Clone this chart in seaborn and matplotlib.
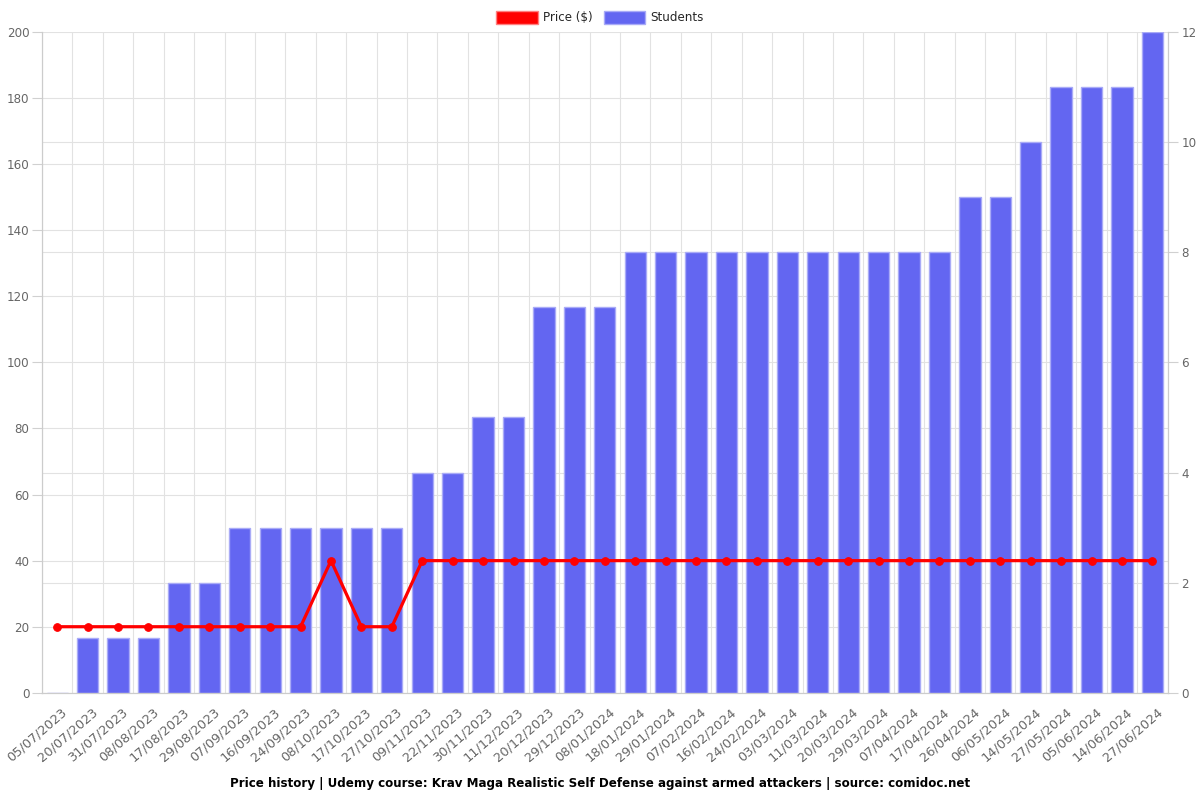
import numpy as np
import pandas as pd
import matplotlib
matplotlib.use("Agg")
import matplotlib.pyplot as plt
import matplotlib.transforms as mtransforms
import seaborn as sns
from matplotlib.patches import Patch
from matplotlib.ticker import MultipleLocator, FixedLocator

dates = ["05/07/2023", "20/07/2023", "31/07/2023", "08/08/2023", "17/08/2023", "29/08/2023",
         "07/09/2023", "16/09/2023", "24/09/2023", "08/10/2023", "17/10/2023", "27/10/2023",
         "09/11/2023", "22/11/2023", "30/11/2023", "11/12/2023", "20/12/2023", "29/12/2023",
         "08/01/2024", "18/01/2024", "29/01/2024", "07/02/2024", "16/02/2024", "24/02/2024",
         "03/03/2024", "11/03/2024", "20/03/2024", "29/03/2024", "07/04/2024", "17/04/2024",
         "26/04/2024", "06/05/2024", "14/05/2024", "27/05/2024", "05/06/2024", "14/06/2024",
         "27/06/2024"]
students = [0, 1, 1, 1, 2, 2, 3, 3, 3, 3, 3, 3, 4, 4, 5, 5, 7, 7, 7, 8, 8, 8, 8, 8, 8, 8,
            8, 8, 8, 8, 9, 9, 10, 11, 11, 11, 12]
price = [20, 20, 20, 20, 20, 20, 20, 20, 20, 40, 20, 20, 40, 40, 40, 40, 40, 40, 40, 40,
         40, 40, 40, 40, 40, 40, 40, 40, 40, 40, 40, 40, 40, 40, 40, 40, 40]

df = pd.DataFrame({"date": dates, "students": students, "price": price})
df["pos"] = np.arange(len(df))

sns.set_style("white")
plt.rcParams['font.family'] = ['DejaVu Sans']

bar_col = "#6366f1"
grid_col = "#e2e2e2"
tick_col = "#666666"
fs = 8.6

fig, ax = plt.subplots(figsize=(12, 8), dpi=100)
fig.subplots_adjust(left=0.035, right=0.973, top=0.96, bottom=0.134)

# bars on the base axis (students scale, right side); price line on the twin (left side)
sns.barplot(data=df, x="date", y="students", ax=ax, color=bar_col, width=0.7,
            edgecolor="#a9abf7", linewidth=1, saturation=1, zorder=2)
ax.set_ylim(0, 12)
ax.set_xlim(-0.5, len(df) - 0.5)
ax.set_xlabel("")
ax.set_ylabel("")

ax2 = ax.twinx()
sns.lineplot(data=df, x="pos", y="price", ax=ax2, color="#ff0000", lw=2.3,
             marker="o", markersize=5.5, markeredgecolor="#ff0000", zorder=5)
ax2.set_ylim(0, 200)
ax2.set_xlim(-0.5, len(df) - 0.5)
ax2.set_xlabel("")
ax2.set_ylabel("")
ax2.yaxis.tick_left()
ax2.yaxis.set_major_locator(MultipleLocator(20))
ax2.tick_params(axis="y", length=7, width=0.8, color="#d0d0d0", labelsize=fs,
                labelcolor=tick_col, pad=2)
ax2.grid(False)

ax.yaxis.tick_right()
ax.yaxis.set_major_locator(MultipleLocator(2))
# price grid (every 20 $) drawn on the bar axis so it stays behind the bars
ax.yaxis.set_minor_locator(MultipleLocator(1.2))
ax.tick_params(axis="y", which="major", length=7, width=0.8, color="#d0d0d0", labelsize=fs,
               labelcolor=tick_col, pad=3)
ax.tick_params(axis="y", which="minor", length=0)
ax.xaxis.set_minor_locator(FixedLocator(np.arange(-0.5, len(df), 1)))
ax.tick_params(axis="x", which="major", length=0, labelsize=9.3, labelcolor=tick_col, pad=9)
ax.tick_params(axis="x", which="minor", length=7, width=0.8, color="#d0d0d0")
ax.grid(True, which="minor", axis="x", color=grid_col, lw=0.8)
ax.grid(True, which="both", axis="y", color=grid_col, lw=0.8)
ax.set_axisbelow(True)

shift = mtransforms.ScaledTranslation(4 / 100, 0, fig.dpi_scale_trans)
for lab in ax.get_xticklabels():
    lab.set_rotation(41)
    lab.set_ha("right")
    lab.set_va("top")
    lab.set_rotation_mode("anchor")
    lab.set_transform(lab.get_transform() + shift)

for a in (ax, ax2):
    for side, sp in a.spines.items():
        sp.set_color("#cccccc")
        sp.set_linewidth(0.8)
    a.spines["top"].set_visible(False)

handles = [Patch(facecolor="#ff0000", edgecolor="#ff8080"),
           Patch(facecolor=bar_col, edgecolor="#a9abf7")]
fig.legend(handles, ["Price ($)", "Students"], loc="upper center", bbox_to_anchor=(0.5, 1.0),
           ncol=2, frameon=False, fontsize=fs, handlelength=3.5, handleheight=1.35,
           columnspacing=0.9, handletextpad=0.45)

fig.text(0.5, 0.021, "Price history | Udemy course: Krav Maga Realistic Self Defense against armed attackers | source: comidoc.net",
         ha="center", va="center", fontsize=fs, fontweight="bold", color="black")

fig.savefig("out.png", dpi=100)
